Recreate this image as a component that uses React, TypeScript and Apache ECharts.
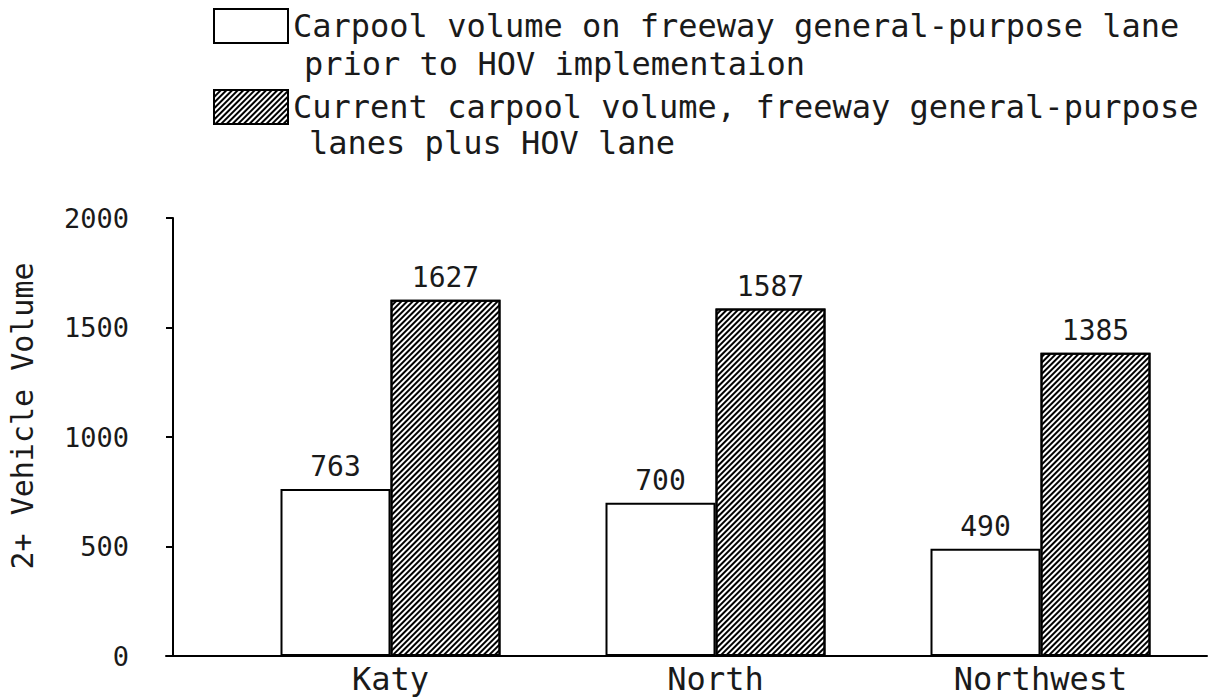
import React, { useEffect, useRef } from "react";
import * as echarts from "echarts";

const categories = ["Katy", "North", "Northwest"];
const priorVolume = [763, 700, 490];
const currentVolume = [1627, 1587, 1385];
const yTicks = { min: 0, max: 2000, interval: 500 };
const seriesNames = [
  "Carpool volume on freeway general-purpose lane\nprior to HOV implementaion",
  "Current carpool volume, freeway general-purpose\nlanes plus HOV lane",
];
const yAxisTitle = "2+ Vehicle Volume";

const FONT = "'DejaVu Sans Mono', 'Liberation Mono', monospace";
const FS_BIG = 32;
const FS_TICK = 27;
const FS_NAME = 30;
const FS_VAL = 28;
const TXT = "#1a1a1a";

export default function App() {
  const ref = useRef<HTMLDivElement>(null);
  useEffect(() => {
    document.body.style.margin = "0";
    const chart = echarts.init(ref.current!, null, { renderer: "svg" });
    const hatch = {
      symbol: "rect",
      symbolSize: 1,
      color: "#000",
      dashArrayX: [1, 0],
      dashArrayY: [1.3, 1.9],
      rotation: -Math.PI / 4,
    };
    const labelStyle = {
      show: true,
      position: "top",
      distance: 8,
      fontSize: FS_VAL,
      fontFamily: FONT,
      color: TXT,
    };
    const secondLine = (i: number, x: number, y: number) => ({
      type: "text",
      x,
      y,
      style: {
        text: seriesNames[i].split("\n")[1],
        fontSize: FS_BIG,
        fontFamily: FONT,
        fill: TXT,
        verticalAlign: "middle",
      },
    });
    chart.setOption({
      animation: false,
      backgroundColor: "#fff",
      textStyle: { fontFamily: FONT },
      legend: {
        orient: "vertical",
        left: 213,
        top: 8,
        padding: 0,
        itemWidth: 74,
        itemHeight: 34,
        itemGap: 45,
        textGap: 10,
        icon: "rect",
        selectedMode: false,
        textStyle: { fontSize: FS_BIG, fontFamily: FONT, color: TXT, lineHeight: 34 },
        itemStyle: { borderColor: "#000", borderWidth: 2 },
        formatter: (n: string) => n.split("\n")[0],
        data: seriesNames,
      },
      graphic: [secondLine(0, 304, 64), secondLine(1, 309, 143)],
      grid: [
        { left: 228, right: 11, top: 218, bottom: 42, outerBoundsMode: "none", containLabel: false },
        { left: 166, right: 7, top: 218, bottom: 42, outerBoundsMode: "none", containLabel: false },
      ],
      xAxis: [
        {
          type: "category",
          gridIndex: 0,
          data: categories,
          axisLine: { show: false },
          axisTick: { show: false },
          axisLabel: { margin: 8, fontSize: FS_BIG, lineHeight: 30, fontFamily: FONT, color: TXT },
        },
        {
          type: "value",
          gridIndex: 1,
          min: 0,
          max: 1,
          axisLine: { show: true, lineStyle: { color: "#000", width: 2 } },
          axisTick: { show: false },
          axisLabel: { show: false },
          splitLine: { show: false },
        },
      ],
      yAxis: [
        {
          type: "value",
          gridIndex: 0,
          min: yTicks.min,
          max: yTicks.max,
          interval: yTicks.interval,
          offset: 55,
          name: yAxisTitle,
          nameLocation: "middle",
          nameGap: 136,
          nameMoveOverlap: false,
          nameTextStyle: {
            fontSize: FS_NAME,
            fontFamily: FONT,
            color: TXT,
            padding: [0, 0, 0, 42],
          },
          axisLine: { show: true, lineStyle: { color: "#000", width: 2 } },
          axisTick: { show: true, length: 7, lineStyle: { color: "#000", width: 2 } },
          axisLabel: {
            margin: 44,
            fontSize: FS_TICK,
            fontFamily: FONT,
            color: TXT,
            formatter: (v: number) => String(v),
          },
          splitLine: { show: false },
        },
        {
          type: "value",
          gridIndex: 1,
          min: yTicks.min,
          max: yTicks.max,
          show: false,
        },
      ],
      series: [
        {
          name: seriesNames[0],
          type: "bar",
          xAxisIndex: 0,
          yAxisIndex: 0,
          data: priorVolume,
          barWidth: 110,
          barGap: "0%",
          itemStyle: { color: "#fff", borderColor: "#000", borderWidth: 2 },
          label: labelStyle,
        },
        {
          name: seriesNames[1],
          type: "bar",
          xAxisIndex: 0,
          yAxisIndex: 0,
          data: currentVolume,
          barWidth: 110,
          barGap: "0%",
          itemStyle: { color: "#fff", borderColor: "#000", borderWidth: 2, decal: hatch },
          label: labelStyle,
        },
      ],
    });
    return () => {
      chart.dispose();
    };
  }, []);
  return (
    <div
      ref={ref}
      style={{ position: "absolute", left: 0, top: 0, width: 1214, height: 698 }}
    />
  );
}
